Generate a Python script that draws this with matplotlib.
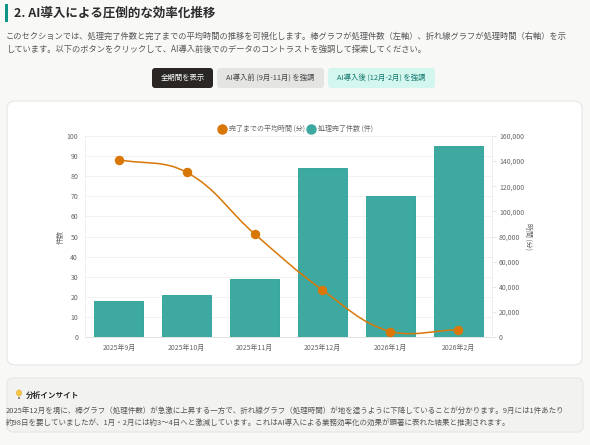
import numpy as np
import matplotlib
matplotlib.use('Agg')
from matplotlib import pyplot as plt
from matplotlib.patches import FancyBboxPatch, Rectangle, Ellipse, PathPatch
from matplotlib.path import Path
from matplotlib.lines import Line2D
from matplotlib.ticker import FuncFormatter

plt.rcParams['font.family'] = ['Noto Sans CJK JP', 'DejaVu Sans']

# data
months = ['2025年9月', '2025年10月', '2025年11月', '2025年12月', '2026年1月', '2026年2月']
counts = [18, 21, 29, 84, 70, 95]                              # 処理完了件数 (件)
avg_minutes = [141120, 131040, 82080, 37440, 4320, 5760]       # 完了までの平均時間 (分)
left_ticks = list(range(0, 101, 10))
right_ticks = list(range(0, 160001, 20000))

title = '2. AI導入による圧倒的な効率化推移'
intro = ['このセクションでは、処理完了件数と完了までの平均時間の推移を可視化します。棒グラフが処理件数（左軸）、折れ線グラフが処理時間（右軸）を示',
         'しています。以下のボタンをクリックして、AI導入前後でのデータのコントラストを強調して探索してください。']
buttons = ['全期間を表示', 'AI導入前 (9月-11月) を強調', 'AI導入後 (12月-2月) を強調']
insight_title = '分析インサイト'
insight = ['2025年12月を境に、棒グラフ（処理件数）が急激に上昇する一方で、折れ線グラフ（処理時間）が地を這うように下降していることが分かります。9月には1件あたり',
           '約98日を要していましたが、1月・2月には約3〜4日へと激減しています。これはAI導入による業務効率化の効果が顕著に表れた結果と推測されます。']

W, H = 590, 445
TEAL = '#0d9488'
BAR = '#3da9a0'
ORANGE = '#d97706'
FS = 5.0

fig = plt.figure(figsize=(W / 100, H / 100), dpi=100)
fig.patch.set_facecolor('#f8f8f7')


def fx(x):
    return x / W


def fy(y):
    return 1 - y / H


def box(x0, y0, x1, y1, fc, ec='none', r=4, lw=0.8, z=0):
    # pixel box (top-left origin) drawn with round corners
    p = FancyBboxPatch((x0 / 100, (H - y1) / 100), (x1 - x0) / 100, (y1 - y0) / 100,
                       boxstyle='round,pad=0,rounding_size=%f' % (r / 100),
                       transform=fig.dpi_scale_trans, fc=fc, ec=ec, lw=lw, zorder=z)
    fig.add_artist(p)


# heading
fig.add_artist(Rectangle((5 / 100, (H - 22) / 100), 3 / 100, 18 / 100,
                         transform=fig.dpi_scale_trans, fc=TEAL, ec='none'))
fig.text(fx(14), fy(13), title, fontsize=9, fontweight='bold', color='#2b2b2b', va='center')
fig.text(fx(6), fy(36), intro[0], fontsize=5.95, color='#555555', va='center')
fig.text(fx(6), fy(49), intro[1], fontsize=5.95, color='#555555', va='center')

# buttons
btn_x = [(152, 213), (217, 324), (328, 435)]
btn_fc = ['#2a2624', '#e4e4e3', '#d3f6ef']
btn_tc = ['white', '#444444', '#11776c']
for (x0, x1), lab, fc, tc in zip(btn_x, buttons, btn_fc, btn_tc):
    box(x0, 68, x1, 88, fc, r=3)
    fig.text(fx((x0 + x1) / 2), fy(78), lab, fontsize=5.3, color=tc, ha='center', va='center')

# cards
box(7, 101, 582, 365, 'white', ec='#e6e6e4', r=8)
box(7, 378, 583, 432, '#f2f2f1', ec='#e6e6e4', r=6)

# chart
ax = fig.add_axes([fx(85), fy(337), (492 - 85) / W, (337 - 136) / H])
ax.set_facecolor('none')
xpos = np.arange(len(months))
ax.bar(xpos, counts, width=0.72, color=BAR, edgecolor=TEAL, linewidth=0.5, zorder=2)
ax.set_xlim(-0.5, len(months) - 0.5)
ax.set_ylim(0, 100)
ax.set_yticks(left_ticks)
ax.set_xticks(xpos)
ax.set_xticklabels(months)
ax.grid(axis='y', color='#efefef', linewidth=0.6, zorder=0)
ax.tick_params(axis='y', length=0, pad=5, labelsize=FS, labelcolor='#666666')
ax.tick_params(axis='x', length=0, pad=5, labelsize=FS, labelcolor='#666666')
for s in ['top', 'right']:
    ax.spines[s].set_visible(False)
ax.spines['left'].set_color('#ececec')
ax.spines['bottom'].set_color('#dddddd')
ax.spines['left'].set_linewidth(0.6)
ax.spines['bottom'].set_linewidth(0.6)
ax.set_ylabel('件数', fontsize=FS, color='#666666', labelpad=1.5)

ax2 = ax.twinx()
ax2.set_ylim(0, 160000)
ax2.set_yticks(right_ticks)
ax2.yaxis.set_major_formatter(FuncFormatter(lambda v, p: '{:,.0f}'.format(v)))
ax2.tick_params(axis='y', length=3, width=0.6, color='#e2e2e2', pad=2, labelsize=FS, labelcolor='#666666')
for s in ['top', 'left', 'bottom']:
    ax2.spines[s].set_visible(False)
ax2.spines['right'].set_color('#ececec')
ax2.spines['right'].set_linewidth(0.6)
ax2.set_ylabel('時間 (分)', fontsize=FS, color='#666666', rotation=270, labelpad=0.5, va='bottom')

# smooth line (bezier control points like chart.js, tension 0.4) in pixel space
pts = ax2.transData.transform(np.column_stack([xpos, avg_minutes]))
bb = ax2.bbox
t = 0.4
verts = [pts[0]]
codes = [Path.MOVETO]
ctrl = []
for i in range(len(pts)):
    prv = pts[i - 1] if i > 0 else pts[i]
    nxt = pts[i + 1] if i < len(pts) - 1 else pts[i]
    d01 = np.hypot(*(pts[i] - prv))
    d12 = np.hypot(*(nxt - pts[i]))
    s01 = d01 / (d01 + d12)
    s12 = d12 / (d01 + d12)
    cp_prev = pts[i] - t * s01 * (nxt - prv)
    cp_next = pts[i] + t * s12 * (nxt - prv)
    cp_prev[1] = np.clip(cp_prev[1], bb.y0, bb.y1)
    cp_next[1] = np.clip(cp_next[1], bb.y0, bb.y1)
    ctrl.append((cp_prev, cp_next))
for i in range(1, len(pts)):
    verts += [ctrl[i - 1][1], ctrl[i][0], pts[i]]
    codes += [Path.CURVE4] * 3
verts = ax2.transData.inverted().transform(np.array(verts))
ax2.add_patch(PathPatch(Path(verts, codes), fill=False, ec=ORANGE, lw=1.1, zorder=3))
ax2.plot(xpos, avg_minutes, 'o', color=ORANGE, ms=5.8, zorder=4)

# legend
fig.add_artist(Line2D([fx(222)], [fy(129)], marker='o', ms=6.5, color=ORANGE, transform=fig.transFigure))
fig.text(fx(229), fy(129), '完了までの平均時間 (分)', fontsize=FS, color='#666666', va='center')
fig.add_artist(Line2D([fx(311)], [fy(129)], marker='o', ms=6.5, color=BAR, transform=fig.transFigure))
fig.text(fx(318), fy(129), '処理完了件数 (件)', fontsize=FS, color='#666666', va='center')

# insight box
fig.add_artist(Ellipse((19 / 100, (H - 393) / 100), 5 / 100, 6 / 100, transform=fig.dpi_scale_trans,
                       fc='#f6c744', ec='#d9a520', lw=0.4))
fig.add_artist(Rectangle((17.6 / 100, (H - 399) / 100), 2.8 / 100, 2.5 / 100,
                         transform=fig.dpi_scale_trans, fc='#8a8a8a', ec='none'))
fig.text(fx(26), fy(395), insight_title, fontsize=5.5, fontweight='bold', color='#2b2b2b', va='center')
fig.text(fx(6), fy(411), insight[0], fontsize=5.4, color='#555555', va='center')
fig.text(fx(6), fy(423), insight[1], fontsize=5.4, color='#555555', va='center')

fig.savefig('out.png', dpi=100)
